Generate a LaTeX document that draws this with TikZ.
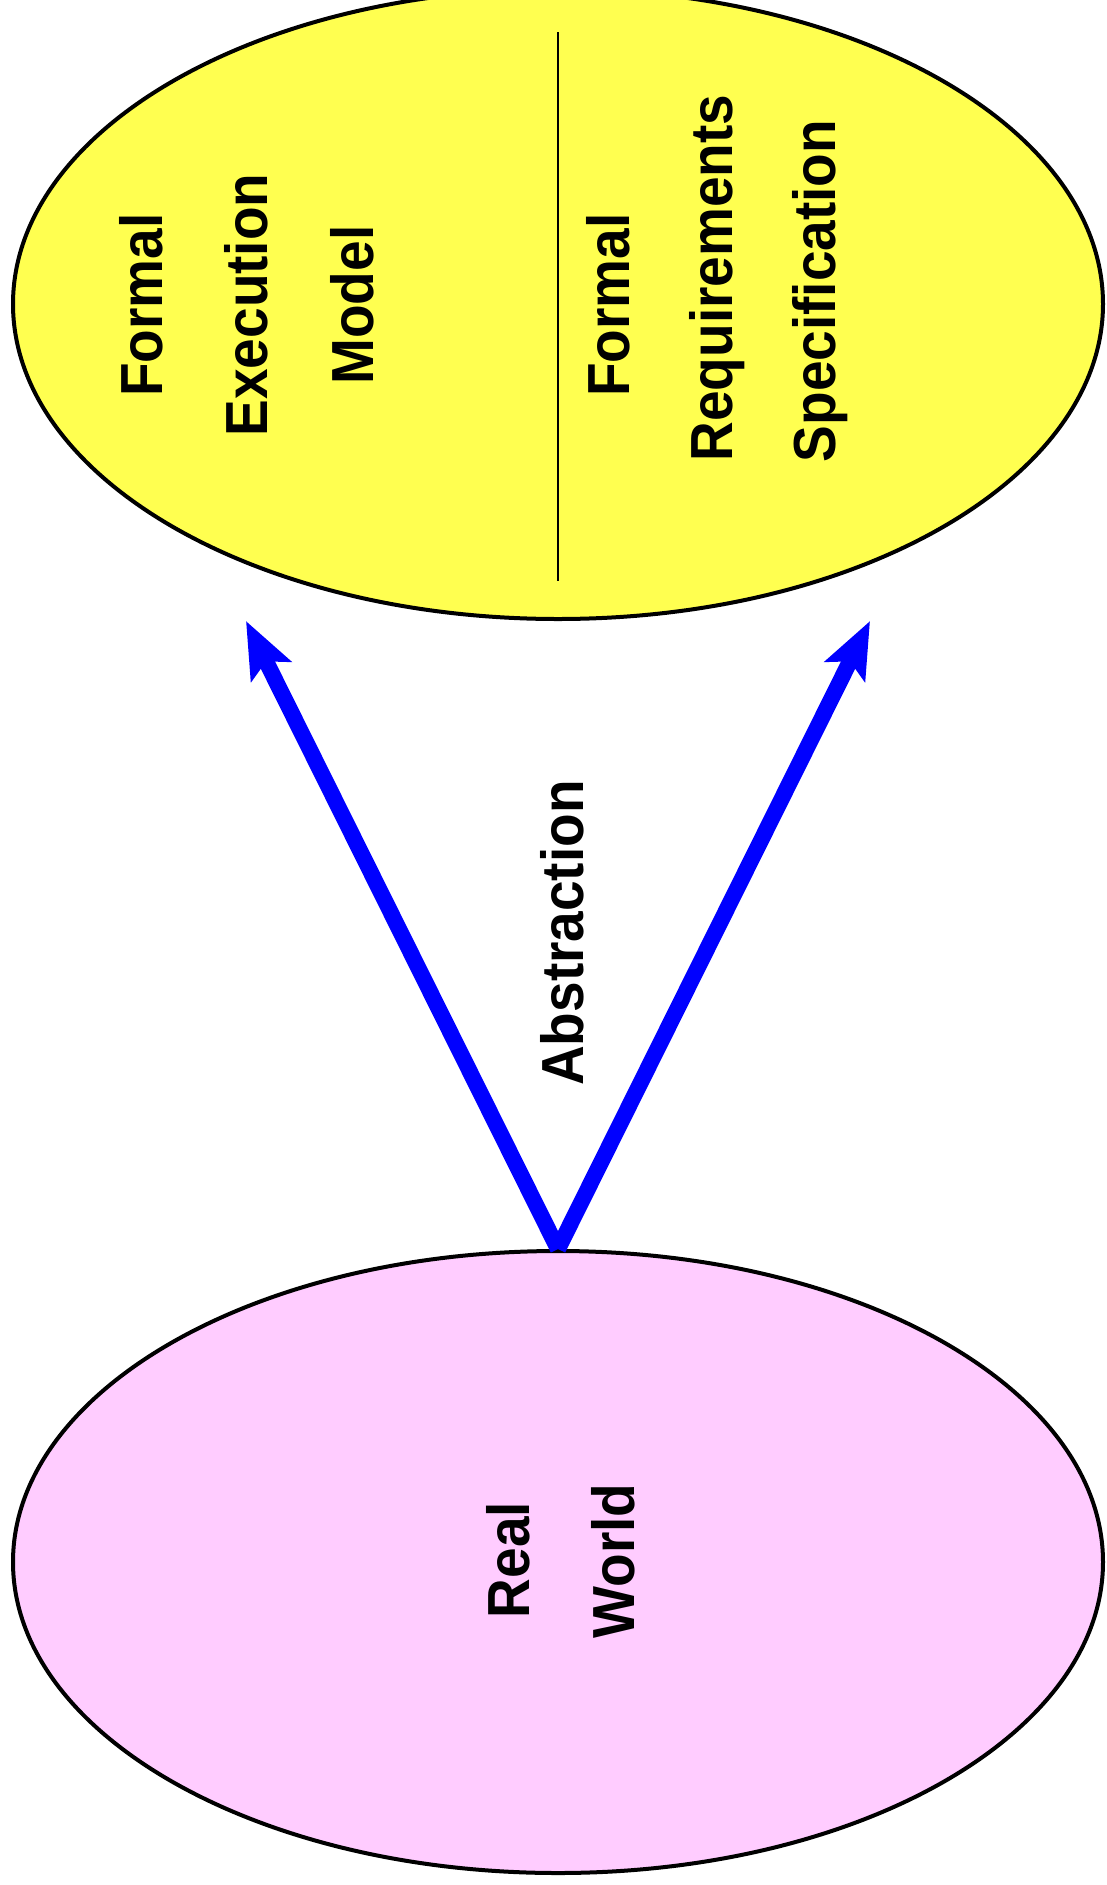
\documentclass[tikz,border=0pt]{standalone}
\usepackage{graphicx}
\usepackage{fontspec}
\setmainfont{Liberation Sans}
\usetikzlibrary{shapes.geometric,arrows.meta}
\definecolor{ovyellow}{RGB}{255,255,80}
\definecolor{ovpink}{RGB}{255,204,255}
\newcommand{\tallbox}[1]{\scalebox{1}[1.08]{#1}}
\begin{document}
\begin{tikzpicture}[x=1pt,y=-1pt,
  lbl/.style={rotate=90, anchor=base, inner sep=0pt, font=\fontsize{55}{66}\selectfont\bfseries},
  oval/.style={ellipse, draw=black, line width=4pt, inner sep=0pt},
  absarrow/.style={draw=blue, line width=16pt, -{Stealth[length=56pt,width=44pt,inset=11pt]}}]
\useasboundingbox (0,0) rectangle (1106,1885);
\clip (0,0) rectangle (1106,1885);
\fill[white] (0,0) rectangle (1106,1885);
% ellipses
\node[oval, fill=ovyellow, minimum width=1090pt, minimum height=630pt] (formal) at (558,304) {};
\node[oval, fill=ovpink, minimum width=1090pt, minimum height=622pt] (real) at (558,1562) {};
% divider
\coordinate (divtop) at (558,32);
\coordinate (divbot) at (558,581);
\draw[line width=2.8pt] (divtop) -- (divbot);
% texts
\node[lbl] (fem1) at (162,305) {\tallbox{Formal}};
\node[lbl] (fem2) at (267,305) {\tallbox{Execution}};
\node[lbl] (fem3) at (373,305) {\tallbox{Model}};
\node[lbl] (frs1) at (629,305) {\tallbox{Formal}};
\node[lbl] (frs2) at (732,278) {\tallbox{Requirements}};
\node[lbl] (frs3) at (835,291) {\tallbox{Specification}};
\node[lbl] (abs) at (583,933) {\tallbox{Abstraction}};
\node[lbl] (rw1) at (529,1560) {\tallbox{Real}};
\node[lbl] (rw2) at (634,1561) {\tallbox{World}};
% arrows
\coordinate (tipL) at (246,621);
\coordinate (tipR) at (870,621);
\draw[absarrow] (real.north) -- (tipL);
\draw[absarrow] (real.north) -- (tipR);
\end{tikzpicture}
\end{document}
